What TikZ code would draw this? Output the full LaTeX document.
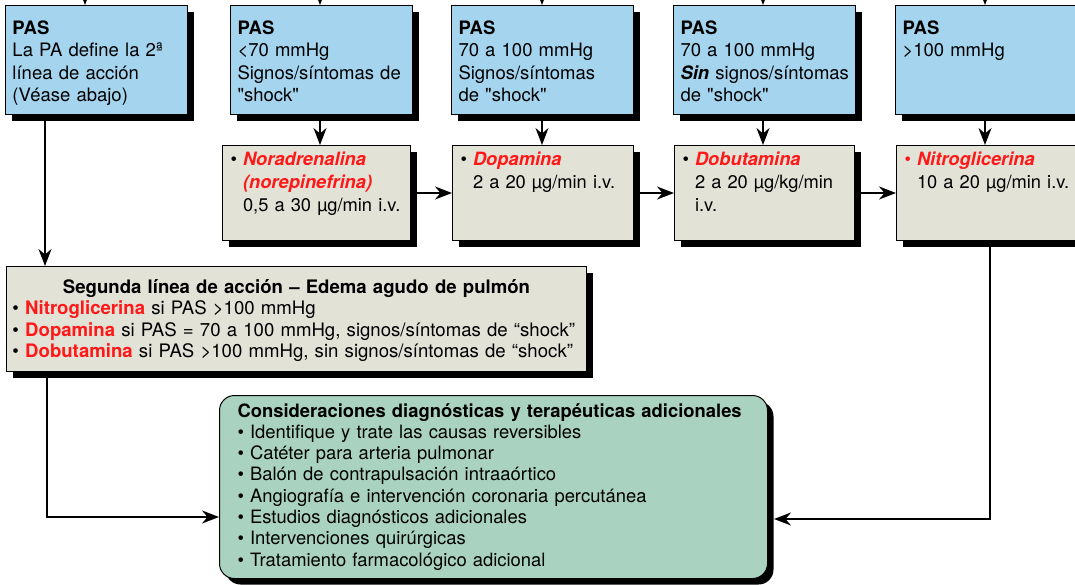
\documentclass[tikz,border=0pt]{standalone}
\usepackage{fontspec}
\setmainfont{TeX Gyre Heros}
\usepackage{xcolor}
\usetikzlibrary{arrows.meta,shadows,calc}
\definecolor{pasblue}{RGB}{164,212,238}
\definecolor{druggray}{RGB}{227,226,215}
\definecolor{considgreen}{RGB}{169,211,192}
\definecolor{drugred}{RGB}{255,24,24}
\newcommand{\ind}{\hphantom{\textbullet\ }}
\newcommand{\farmaco}[1]{\textcolor{drugred}{\bfseries\itshape #1}}
\newcommand{\rojo}[1]{\textcolor{drugred}{\bfseries #1}}
\newcommand{\shock}{\textquotedbl shock\textquotedbl}
\tikzset{
  shadowed/.style={drop shadow={shadow xshift=6pt,shadow yshift=-6pt,opacity=1,fill=black}},
  pasbox/.style={shadowed,draw,line width=1pt,fill=pasblue,anchor=north west,align=left,
    inner xsep=7pt,inner ysep=0pt,text width=168pt,text height=28.5pt,text depth=80.5pt,
    font=\fontsize{18.5}{22.5}\selectfont},
  drugbox/.style={shadowed,draw,line width=1pt,fill=druggray,anchor=north west,align=left,
    inner xsep=8pt,inner ysep=0pt,text height=19.5pt,text depth=75.5pt,
    font=\fontsize{18.3}{23}\selectfont},
  secbox/.style={shadowed,draw,line width=1pt,fill=druggray,anchor=north west,align=left,
    inner xsep=6pt,inner ysep=0pt,text width=568pt,text height=26.5pt,text depth=78.5pt,
    font=\fontsize{18.6}{21.5}\selectfont},
  considbox/.style={shadowed,draw,line width=1pt,fill=considgreen,rounded corners=15pt,
    anchor=north west,align=left,inner xsep=18pt,inner ysep=0pt,text width=512pt,
    text height=21.5pt,text depth=161.5pt,font=\fontsize{18.4}{21.3}\selectfont},
  arr/.style={line width=2pt,-{Stealth[length=17pt,width=13pt]}}
}

\begin{document}
\begin{tikzpicture}[x=1pt,y=-1pt]
\useasboundingbox (0,0) rectangle (1075,584);

% fila de PAS
\node[pasbox] (pas1) at (5,5) {\textbf{PAS}\\La PA define la 2ª\\línea de acción\\(Véase abajo)};
\node[pasbox] (pas2) at (230,5) {\textbf{PAS}\\<70 mmHg\\\mbox{Signos/síntomas de}\\\shock};
\node[pasbox] (pas3) at (451,5) {\textbf{PAS}\\70 a 100 mmHg\\Signos/síntomas\\de \shock};
\node[pasbox] (pas4) at (673,5) {\textbf{PAS}\\70 a 100 mmHg\\\mbox{\textbf{\textit{Sin}} signos/síntomas}\\de \shock};
\node[pasbox,text width=171pt] (pas5) at (895,5) {\textbf{PAS}\\>100 mmHg};

% farmacos
\node[drugbox,text width=172pt] (noradr) at (222,145) {\textbullet\ \farmaco{Noradrenalina}\\\ind\farmaco{(norepinefrina)}\\\ind\mbox{0,5 a 30 µg/min i.v.}};
\node[drugbox,text width=165pt] (dopa) at (452,145) {\textbullet\ \farmaco{Dopamina}\\\ind 2 a 20 µg/min i.v.};
\node[drugbox,text width=164pt] (dobu) at (674,145) {\textbullet\ \farmaco{Dobutamina}\\\ind 2 a 20 µg/kg/min\\\ind i.v.};
\node[drugbox,text width=169pt] (nitro) at (896,145) {\textcolor{drugred}{\textbullet}\ \farmaco{Nitroglicerina}\\\ind\mbox{10 a 20 µg/min i.v.}};

\node[secbox] (segunda) at (6,266) {\makebox[\linewidth]{\bfseries Segunda línea de acción -- Edema agudo de pulmón}\\
  \textbullet\ \rojo{Nitroglicerina} si PAS >100 mmHg\\
  \mbox{\textbullet\ \rojo{Dopamina} si PAS = 70 a 100 mmHg, signos/síntomas de “shock”}\\
  \mbox{\textbullet\ \rojo{Dobutamina} si PAS >100 mmHg, sin signos/síntomas de “shock”}};

\node[considbox] (consid) at (219,395) {\mbox{\textbf{Consideraciones diagnósticas y terapéuticas adicionales}}\\
  \textbullet\ Identifique y trate las causas reversibles\\
  \textbullet\ Catéter para arteria pulmonar\\
  \textbullet\ Balón de contrapulsación intraaórtico\\
  \textbullet\ Angiografía e intervención coronaria percutánea\\
  \textbullet\ Estudios diagnósticos adicionales\\
  \textbullet\ Intervenciones quirúrgicas\\
  \textbullet\ Tratamiento farmacológico adicional};

% flechas
\foreach \i/\xx in {1/85,2/320,3/542,4/763,5/985}
  {
    \coordinate (in\i) at (\xx,-20);
    \draw[arr] (in\i) -- (in\i |- pas\i.north);
  }
\draw[arr] (in2 |- pas2.south) -- (in2 |- noradr.north);
\draw[arr] (in3 |- pas3.south) -- (in3 |- dopa.north);
\draw[arr] (in4 |- pas4.south) -- (in4 |- dobu.north);
\draw[arr] (in5 |- pas5.south) -- (in5 |- nitro.north);

\draw[arr] (noradr.east) -- (dopa.west);
\draw[arr] (dopa.east) -- (dobu.west);
\draw[arr] (dobu.east) -- (nitro.west);

\coordinate (bajada) at (45,200);
\draw[arr] (bajada |- pas1.south) -- (bajada |- segunda.north);

\coordinate (codoizq) at (47,517);
\coordinate (cododer) at (990,519);
\draw[arr] (codoizq |- segunda.south) |- (consid.west |- codoizq);
\draw[arr] (cododer |- nitro.south) |- ([xshift=6pt]consid.east |- cododer);
% \draw[arr] (nitro.south) -- (consid.east);
\end{tikzpicture}
\end{document}
